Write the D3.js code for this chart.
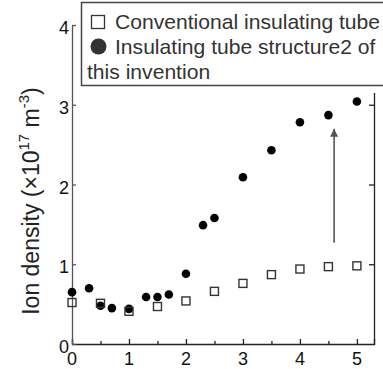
<!DOCTYPE html>
<html>
<head>
<meta charset="utf-8">
<script src="https://cdn.jsdelivr.net/npm/d3@7"></script>
<style>
  body { margin: 0; background: #fff; }
  svg { font-family: "Liberation Sans", Arial, sans-serif; }
</style>
</head>
<body>
<div id="viz-container"></div>
<script>
// data
let convX = [0, 0.5, 1, 1.5, 2, 2.5, 3, 3.5, 4, 4.5, 5];
let convY = [0.52, 0.51, 0.41, 0.47, 0.54, 0.66, 0.76, 0.87, 0.94, 0.97, 0.98];
let invX = [0, 0.3, 0.5, 0.7, 1, 1.3, 1.5, 1.7, 2, 2.3, 2.5, 3, 3.5, 4, 4.5, 5];
let invY = [0.65, 0.70, 0.48, 0.45, 0.44, 0.59, 0.59, 0.62, 0.88, 1.49, 1.58, 2.09, 2.43, 2.78, 2.87, 3.04];
let xTicks = [0, 1, 2, 3, 4, 5];
let xMinor = [0.5, 1.5, 2.5, 3.5, 4.5];
let yTicks = [0, 1, 2, 3, 4];
let arrowX = [4.6, 4.6];
let arrowY = [1.27, 2.70];
let legendLabels = ["Conventional insulating tube", "Insulating tube structure2 of", "this invention"];

let conv = convX.map((d, i) => ({x: d, y: convY[i]}));
let inv = invX.map((d, i) => ({x: d, y: invY[i]}));

let viz = d3.select("#viz-container")
    .append("svg")
        .attr("width", 383)
        .attr("height", 369)
;

let x = d3.scaleLinear().domain([0, 5.3]).range([72, 374]);
let y = d3.scaleLinear().domain([0, 4]).range([344, 25]);

// bottom axis, ticks pointing in
viz.append("g")
    .attr("transform", "translate(0," + y(0) + ")")
    .call(d3.axisBottom(x).tickValues(xTicks).tickSize(-5).tickFormat(""))
    .call(g => g.selectAll("line,path").attr("stroke", "#222").attr("stroke-width", 1.3))
;
viz.append("g")
    .attr("transform", "translate(0," + y(0) + ")")
    .call(d3.axisBottom(x).tickValues(xMinor).tickSize(-3).tickFormat(""))
    .call(g => g.select(".domain").remove())
    .call(g => g.selectAll("line").attr("stroke", "#222").attr("stroke-width", 1.3))
;
viz.selectAll(".xLabel").data(xTicks).enter()
    .append("text")
        .attr("class", "xLabel")
        .attr("x", d => x(d))
        .attr("y", 365)
        .attr("text-anchor", "middle")
        .attr("font-size", 18)
        .attr("fill", "#111")
        .text(d => d)
;

// left axis
viz.append("g")
    .attr("transform", "translate(" + x(0) + ",0)")
    .call(d3.axisLeft(y).tickValues(yTicks).tickSize(-4).tickSizeOuter(0).tickFormat(""))
    .call(g => g.selectAll("line,path").attr("stroke", "#555").attr("stroke-width", 1.3))
;
viz.selectAll(".yLabel").data(yTicks).enter()
    .append("text")
        .attr("class", "yLabel")
        .attr("x", 69)
        .attr("y", d => y(d) + 9)
        .attr("text-anchor", "end")
        .attr("font-size", 18)
        .attr("fill", "#111")
        .text(d => d)
;

// right axis, ticks pointing in
viz.append("g")
    .attr("transform", "translate(" + x(5.3) + ",0)")
    .call(d3.axisRight(y).tickValues([1, 2, 3]).tickSize(-5).tickSizeOuter(0).tickFormat(""))
    .call(g => g.selectAll("line,path").attr("stroke", "#222").attr("stroke-width", 1.3))
;

// y axis title
let yt = viz.append("text")
    .attr("transform", "translate(39,201) rotate(-90)")
    .attr("text-anchor", "middle")
    .attr("font-size", 23)
    .attr("fill", "#222")
;
yt.append("tspan").text("Ion density  (×10");
yt.append("tspan").attr("dy", -10).attr("font-size", 15).text("17");
yt.append("tspan").attr("dy", 10).text(" m");
yt.append("tspan").attr("dy", -10).attr("font-size", 15).text("-3");
yt.append("tspan").attr("dy", 10).text(")");

// arrow
viz.append("defs").append("marker")
    .attr("id", "head")
    .attr("viewBox", "0 0 10 10")
    .attr("refX", 10)
    .attr("refY", 5)
    .attr("markerWidth", 5)
    .attr("markerHeight", 5)
    .attr("markerUnits", "strokeWidth")
    .attr("orient", "auto")
    .append("path")
        .attr("d", "M0,0 L10,5 L0,10 Z")
        .attr("fill", "#555")
;
viz.append("line")
    .attr("x1", x(arrowX[0]))
    .attr("y1", y(arrowY[0]))
    .attr("x2", x(arrowX[1]))
    .attr("y2", y(arrowY[1]))
    .attr("stroke", "#555")
    .attr("stroke-width", 1.6)
    .attr("marker-end", "url(#head)")
;

// filled circles
viz.selectAll(".invDot").data(inv).enter()
    .append("circle")
        .attr("class", "invDot")
        .attr("cx", d => x(d.x))
        .attr("cy", d => y(d.y))
        .attr("r", 4.3)
        .attr("fill", "#000")
;

// open squares
viz.selectAll(".convSq").data(conv).enter()
    .append("rect")
        .attr("class", "convSq")
        .attr("x", d => x(d.x) - 4)
        .attr("y", d => y(d.y) - 4)
        .attr("width", 8)
        .attr("height", 8)
        .attr("fill", "none")
        .attr("stroke", "#333")
        .attr("stroke-width", 1.4)
;

// legend (white box with a margin below, so the right axis starts under it)
let lg = viz.append("g");
lg.append("rect")
    .attr("x", 80)
    .attr("y", 0)
    .attr("width", 320)
    .attr("height", 93)
    .attr("fill", "#fff")
;
lg.append("rect")
    .attr("x", 81.5)
    .attr("y", 2.5)
    .attr("width", 320)
    .attr("height", 83)
    .attr("fill", "#fff")
    .attr("stroke", "#444")
    .attr("stroke-width", 1.5)
;
lg.append("rect")
    .attr("x", 91.5)
    .attr("y", 15.5)
    .attr("width", 13)
    .attr("height", 13)
    .attr("fill", "none")
    .attr("stroke", "#333")
    .attr("stroke-width", 1.3)
;
lg.append("circle")
    .attr("cx", 98.5)
    .attr("cy", 46.5)
    .attr("r", 8)
    .attr("fill", "#333")
;
lg.selectAll(".legText").data(legendLabels).enter()
    .append("text")
        .attr("class", "legText")
        .attr("x", (d, i) => i < 2 ? 115 : 87)
        .attr("y", (d, i) => 29 + i * 25)
        .attr("font-size", 21.1)
        .attr("fill", "#333")
        .text(d => d)
;
</script>
</body>
</html>
